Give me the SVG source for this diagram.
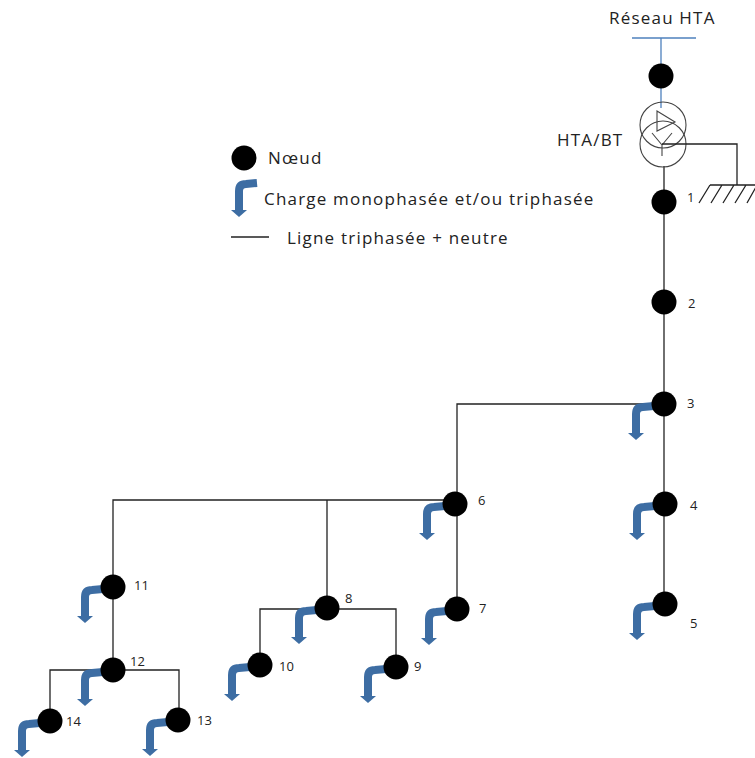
<svg xmlns="http://www.w3.org/2000/svg" width="755" height="758" viewBox="0 0 755 758">
<style>
text{font-family:"Open Sans","Noto Sans",sans-serif;fill:#222}
.big{font-size:17px;letter-spacing:1.2px}
.num{font-size:13px}
.w{fill:none;stroke:#222;stroke-width:1.3}
.b{fill:none;stroke:#4f81bd;stroke-width:1.3}
.t{fill:none;stroke:#444;stroke-width:1.1}
.d{fill:#000}
</style>
<defs>
<g id="load">
<path d="M-10,2 L-21,3 Q-28,3 -28,10 L-28,30" fill="none" stroke="#3d6da3" stroke-width="8"/>
<polygon points="-36,29 -20,29 -28,36" fill="#3d6da3"/>
</g>
</defs>
<rect width="755" height="758" fill="#fff"/>
<g id="connectors">
<path class="b" d="M632,38H696M661,38V108"/>
<path class="w" d="M664,166V604"/>
<path class="w" d="M664,404H457V609M455,500H113V670M327,500V608M260,665V609H396V667M50,721V670H179V720"/>
</g>
<g id="transformer">
<circle class="t" cx="663" cy="125" r="23"/>
<circle class="t" cx="663" cy="144" r="23"/>
<path class="t" d="M657,111V131L675,122Z"/>
<path class="t" d="M652,133L662,145L672,133M662,145V156"/>
<path class="w" d="M662,144H737V185"/>
<path class="w" d="M710,185H755M710,185L699,203M722,185L711,203M734,185L723,203M746,185L735,203M756,187L747,203"/>
<text class="big" x="557" y="146">HTA/BT</text>
</g>
<g id="network-label"><text class="big" x="609" y="24">Réseau HTA</text></g>
<g id="node-source"><circle class="d" cx="661" cy="76" r="12.5"/></g>
<g id="node-1"><circle class="d" cx="664" cy="202" r="12.5"/><text class="num" x="687" y="202">1</text></g>
<g id="node-2"><circle class="d" cx="664" cy="302" r="12.5"/><text class="num" x="688" y="308">2</text></g>
<g id="node-3"><use href="#load" x="664" y="404"/><circle class="d" cx="664" cy="404" r="12.5"/><text class="num" x="687" y="408">3</text></g>
<g id="node-4"><use href="#load" x="665" y="504"/><circle class="d" cx="665" cy="504" r="12.5"/><text class="num" x="690" y="510">4</text></g>
<g id="node-5"><use href="#load" x="665" y="604"/><circle class="d" cx="665" cy="604" r="12.5"/><text class="num" x="690" y="628">5</text></g>
<g id="node-6"><use href="#load" x="455" y="504"/><circle class="d" cx="455" cy="504" r="12.5"/><text class="num" x="478" y="505">6</text></g>
<g id="node-7"><use href="#load" x="457" y="609"/><circle class="d" cx="457" cy="609" r="12.5"/><text class="num" x="479" y="613">7</text></g>
<g id="node-8"><use href="#load" x="327" y="608"/><circle class="d" cx="327" cy="608" r="12.5"/><text class="num" x="345" y="603">8</text></g>
<g id="node-9"><use href="#load" x="396" y="667"/><circle class="d" cx="396" cy="667" r="12.5"/><text class="num" x="414" y="671">9</text></g>
<g id="node-10"><use href="#load" x="260" y="665"/><circle class="d" cx="260" cy="665" r="12.5"/><text class="num" x="279" y="671">10</text></g>
<g id="node-11"><use href="#load" x="113" y="587"/><circle class="d" cx="113" cy="587" r="12.5"/><text class="num" x="134" y="590">11</text></g>
<g id="node-12"><use href="#load" x="113" y="670"/><circle class="d" cx="113" cy="670" r="12.5"/><text class="num" x="130" y="666">12</text></g>
<g id="node-13"><use href="#load" x="178" y="720"/><circle class="d" cx="178" cy="720" r="12.5"/><text class="num" x="197" y="725">13</text></g>
<g id="node-14"><use href="#load" x="50" y="721"/><circle class="d" cx="50" cy="721" r="12.5"/><text class="num" x="66" y="726">14</text></g>
<g id="legend">
<circle class="d" cx="244" cy="158" r="12.5"/>
<text class="big" x="268" y="164">Nœud</text>
<use href="#load" x="267" y="181"/>
<text class="big" x="264" y="205">Charge monophasée et/ou triphasée</text>
<path class="w" d="M231,237H269"/>
<text class="big" x="287" y="244">Ligne triphasée + neutre</text>
</g>
</svg>
